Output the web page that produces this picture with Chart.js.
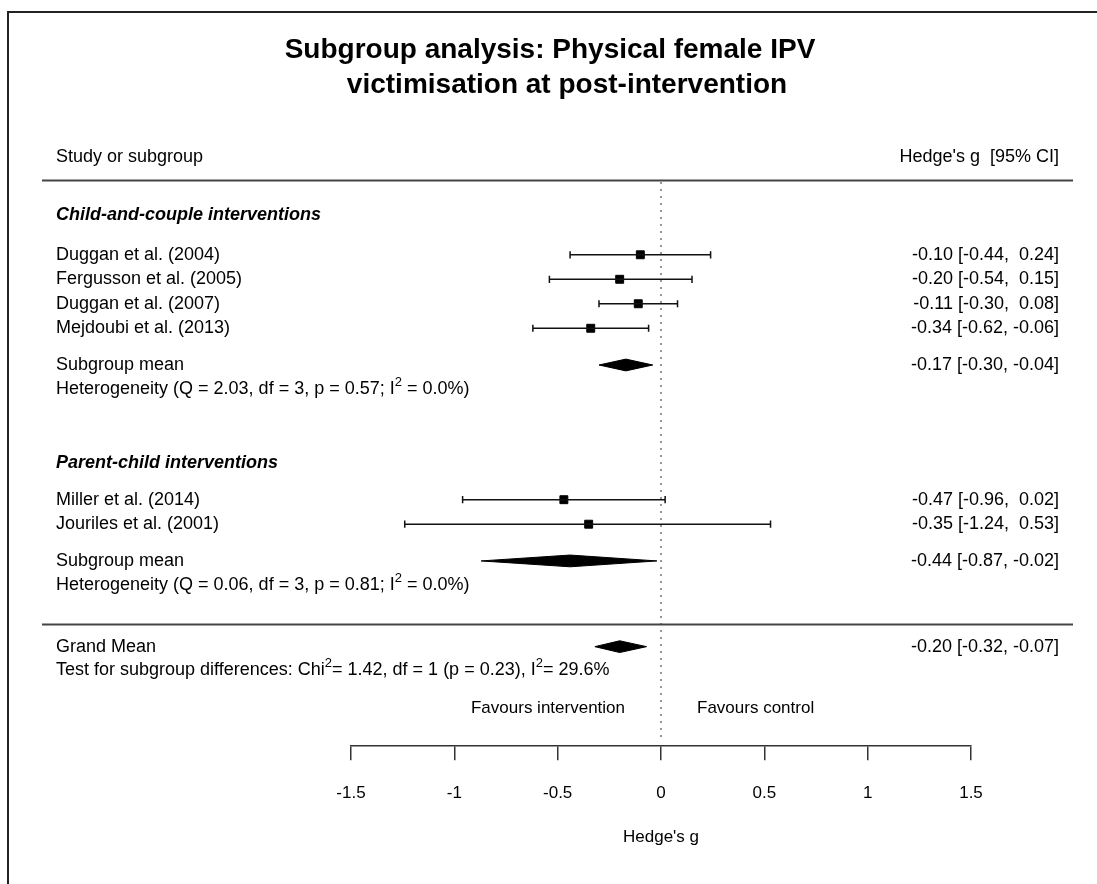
<!DOCTYPE html>
<html>
<head>
<meta charset="utf-8">
<script src="https://cdn.jsdelivr.net/npm/chart.js@4.4.1/dist/chart.umd.min.js"></script>
<style>
html,body{margin:0;padding:0;background:#fff;}
canvas{display:block;}
</style>
</head>
<body>
<canvas id="c" width="1097" height="884"></canvas>
<script>
// ---------------- DATA ----------------
const chartTitle = ["Subgroup analysis: Physical female IPV", "victimisation at post-intervention"];
const colHeaderLeft = "Study or subgroup";
const colHeaderRight = "Hedge's g  [95% CI]";
const groupNames = ["Child-and-couple interventions", "Parent-child interventions"];

const group1Studies = ["Duggan et al. (2004)", "Fergusson et al. (2005)", "Duggan et al. (2007)", "Mejdoubi et al. (2013)"];
const group1G  = [-0.10, -0.20, -0.11, -0.34];
const group1Lo = [-0.44, -0.54, -0.30, -0.62];
const group1Hi = [ 0.24,  0.15,  0.08, -0.06];

const group2Studies = ["Miller et al. (2014)", "Jouriles et al. (2001)"];
const group2G  = [-0.47, -0.35];
const group2Lo = [-0.96, -1.24];
const group2Hi = [ 0.02,  0.53];

const subgroupLabel = "Subgroup mean";
const subgroupG  = [-0.17, -0.44];
const subgroupLo = [-0.30, -0.87];
const subgroupHi = [-0.04, -0.02];
const heterogeneity = [
  "Heterogeneity (Q = 2.03, df = 3, p = 0.57; I^2 = 0.0%)",
  "Heterogeneity (Q = 0.06, df = 3, p = 0.81; I^2 = 0.0%)"
];

const grandLabel = "Grand Mean";
const grandG  = [-0.20];
const grandLo = [-0.32];
const grandHi = [-0.07];
const subgroupTest = "Test for subgroup differences: Chi^2= 1.42, df = 1 (p = 0.23), I^2= 29.6%";

const favourLabels = ["Favours intervention", "Favours control"];
const xTicks = [-1.5, -1, -0.5, 0, 0.5, 1, 1.5];
const xTickLabels = ["-1.5", "-1", "-0.5", "0", "0.5", "1", "1.5"];
const xAxisTitle = "Hedge's g";

// ---------------- LAYOUT (row units) ----------------
const FONT = "'Liberation Sans', Arial, Helvetica, sans-serif";
const ROW = 24.67;          // px per row
const ROW0 = 250;           // px of first study row
const AXIS = 745;           // px of the x axis line
const toRow = px => (px - ROW0) / ROW;
const rows = {
  title: [toRow(44), toRow(79)],
  colHead: toRow(152),
  rule1: toRow(175),
  head: [toRow(210), 8.5],
  g1Start: 0,
  sub: [4.5, 12.5],
  het: [5.5, 13.5],
  g2Start: 10,
  rule2: toRow(622),
  grand: 16,
  test: 16.95,
  favour: 18.5
};
const DIAMOND_HALF = 0.24;

const fmt = v => (v < 0 ? "" : " ") + v.toFixed(2);
const ciText = (g, lo, hi) => fmt(g) + " [" + fmt(lo) + ", " + fmt(hi) + "]";

// ---------------- DATASETS ----------------
const datasets = [];
// zero reference line
datasets.push({
  type: 'line',
  data: [{x: 0, y: toRow(177)}, {x: 0, y: toRow(741)}],
  borderColor: '#444', borderWidth: 1.5, borderDash: [1.5, 5.5],
  pointRadius: 0, fill: false
});
const studyRows = [];
function addStudies(g, lo, hi, start) {
  g.forEach((v, i) => {
    const r = start + i;
    studyRows.push({x: v, y: r});
    datasets.push({
      type: 'line',
      data: [{x: lo[i], y: r}, {x: hi[i], y: r}],
      borderColor: '#111', borderWidth: 1.5, fill: false,
      pointStyle: 'line', pointRotation: 90, pointRadius: 3.6,
      pointBorderColor: '#111', pointBorderWidth: 1.5, pointHoverRadius: 3.6
    });
  });
}
addStudies(group1G, group1Lo, group1Hi, rows.g1Start);
addStudies(group2G, group2Lo, group2Hi, rows.g2Start);
datasets.push({
  type: 'scatter',
  data: studyRows,
  pointStyle: 'rect', pointRadius: 5.6, pointHoverRadius: 5.6,
  backgroundColor: '#000', borderColor: '#000', borderWidth: 1
});
function addDiamond(g, lo, hi, r) {
  datasets.push({
    type: 'line',
    data: [{x: lo, y: r}, {x: g, y: r - DIAMOND_HALF}, {x: hi, y: r}, {x: g, y: r + DIAMOND_HALF}, {x: lo, y: r}],
    borderColor: '#000', backgroundColor: '#000', borderWidth: 1,
    fill: 'shape', pointRadius: 0, tension: 0
  });
}
subgroupG.forEach((v, i) => addDiamond(v, subgroupLo[i], subgroupHi[i], rows.sub[i]));
addDiamond(grandG[0], grandLo[0], grandHi[0], rows.grand);

// ---------------- TEXT PLUGIN ----------------
function drawRich(ctx, str, x, y, size, align, weight) {
  const parts = str.split(/\^(\d)/);
  const w = weight || '';
  const supSize = Math.round(size * 0.7);
  let total = 0;
  parts.forEach((p, i) => {
    ctx.font = w + ' ' + (i % 2 ? supSize : size) + 'px ' + FONT;
    total += ctx.measureText(p).width;
  });
  let cx = align === 'right' ? x - total : (align === 'center' ? x - total / 2 : x);
  ctx.textAlign = 'left';
  parts.forEach((p, i) => {
    const sup = i % 2 === 1;
    ctx.font = w + ' ' + (sup ? supSize : size) + 'px ' + FONT;
    ctx.fillText(p, cx, sup ? y - size * 0.38 : y);
    cx += ctx.measureText(p).width;
  });
}

const forestText = {
  id: 'forestText',
  afterDraw(chart) {
    const {ctx} = chart;
    const Y = r => chart.scales.y.getPixelForValue(r);
    const X = v => chart.scales.x.getPixelForValue(v);
    const LX = 56, RX = 1059, FS = 18;
    ctx.save();
    // frame
    ctx.strokeStyle = '#222'; ctx.lineWidth = 2;
    ctx.beginPath(); ctx.moveTo(8, 884); ctx.lineTo(8, 12); ctx.lineTo(1097, 12); ctx.stroke();
    // rules
    ctx.strokeStyle = '#444'; ctx.lineWidth = 1.8;
    [rows.rule1, rows.rule2].forEach(r => {
      const yy = Math.round(Y(r)) + 0.5;
      ctx.beginPath(); ctx.moveTo(42, yy); ctx.lineTo(1073, yy); ctx.stroke();
    });
    ctx.fillStyle = '#000';
    ctx.textBaseline = 'middle';
    // title
    ctx.font = 'bold 28px ' + FONT; ctx.textAlign = 'center';
    ctx.fillText(chartTitle[0], 550, Y(rows.title[0]));
    ctx.fillText(chartTitle[1], 567, Y(rows.title[1]));
    // column headers
    ctx.font = FS + 'px ' + FONT;
    ctx.textAlign = 'left'; ctx.fillText(colHeaderLeft, LX, Y(rows.colHead));
    ctx.textAlign = 'right'; ctx.fillText(colHeaderRight, RX, Y(rows.colHead));
    // group headers
    ctx.font = 'italic bold ' + FS + 'px ' + FONT; ctx.textAlign = 'left';
    groupNames.forEach((n, i) => ctx.fillText(n, LX, Y(rows.head[i])));
    // studies
    ctx.font = FS + 'px ' + FONT;
    const studyBlock = (names, g, lo, hi, start) => names.forEach((n, i) => {
      ctx.textAlign = 'left'; ctx.fillText(n, LX, Y(start + i));
      ctx.textAlign = 'right'; ctx.fillText(ciText(g[i], lo[i], hi[i]), RX, Y(start + i));
    });
    studyBlock(group1Studies, group1G, group1Lo, group1Hi, rows.g1Start);
    studyBlock(group2Studies, group2G, group2Lo, group2Hi, rows.g2Start);
    // subgroup means
    subgroupG.forEach((v, i) => {
      ctx.font = FS + 'px ' + FONT;
      ctx.textAlign = 'left'; ctx.fillText(subgroupLabel, LX, Y(rows.sub[i]));
      ctx.textAlign = 'right'; ctx.fillText(ciText(v, subgroupLo[i], subgroupHi[i]), RX, Y(rows.sub[i]));
      drawRich(ctx, heterogeneity[i], LX, Y(rows.het[i]), FS, 'left');
    });
    // grand mean
    ctx.font = FS + 'px ' + FONT;
    ctx.textAlign = 'left'; ctx.fillText(grandLabel, LX, Y(rows.grand));
    ctx.textAlign = 'right'; ctx.fillText(ciText(grandG[0], grandLo[0], grandHi[0]), RX, Y(rows.grand));
    drawRich(ctx, subgroupTest, LX, Y(rows.test), FS, 'left');
    // favours
    ctx.font = '17px ' + FONT;
    ctx.textAlign = 'right'; ctx.fillText(favourLabels[0], X(0) - 36, Y(rows.favour));
    ctx.textAlign = 'left'; ctx.fillText(favourLabels[1], X(0) + 36, Y(rows.favour));
    ctx.restore();
  }
};

// ---------------- CHART ----------------
new Chart(document.getElementById('c'), {
  type: 'scatter',
  data: {datasets},
  options: {
    responsive: false,
    animation: false,
    devicePixelRatio: 1,
    events: [],
    layout: {padding: {left: 351, right: 126, top: 0, bottom: 0}},
    plugins: {legend: {display: false}, tooltip: {enabled: false}, title: {display: false}},
    scales: {
      x: {
        type: 'linear', position: 'bottom', min: -1.5, max: 1.5,
        afterBuildTicks: s => { s.ticks = xTicks.map(v => ({value: v})); },
        ticks: {
          callback: (v, i) => xTickLabels[i],
          color: '#000', font: {family: FONT, size: 17}, padding: 23,
          maxRotation: 0, autoSkip: false
        },
        grid: {display: true, drawOnChartArea: false, drawTicks: true, tickLength: 14, color: '#333', lineWidth: 1.5},
        border: {display: true, color: '#333', width: 1.5},
        title: {display: true, text: xAxisTitle, color: '#000', font: {family: FONT, size: 17}, padding: {top: 1, bottom: 36}}
      },
      y: {
        type: 'linear', display: false, reverse: true,
        min: toRow(0), max: toRow(AXIS)
      }
    }
  },
  plugins: [forestText]
});
</script>
</body>
</html>
